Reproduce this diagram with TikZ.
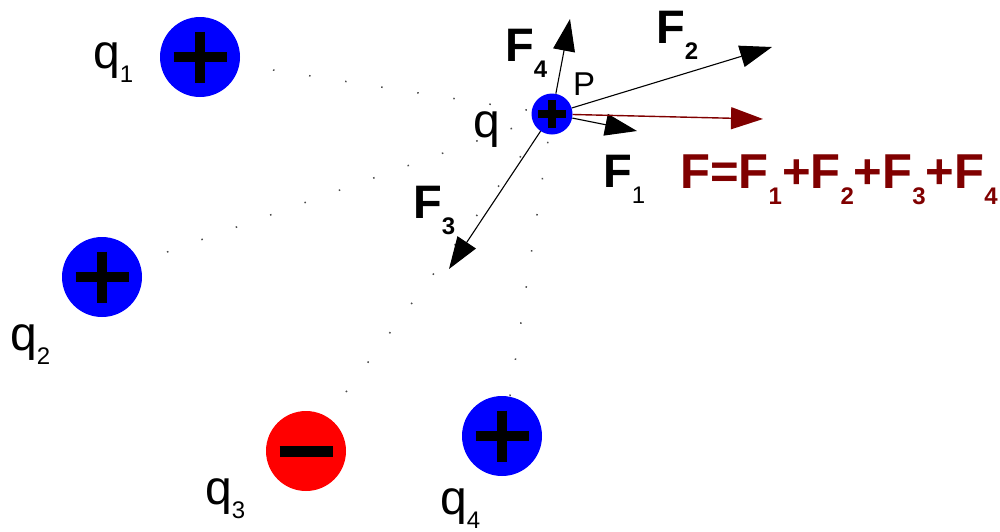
\documentclass[tikz,border=0pt]{standalone}
\usepackage{fontspec}
\setmainfont{Liberation Sans}
\usetikzlibrary{arrows.meta}
\definecolor{darkred}{HTML}{800000}
\definecolor{pureblue}{HTML}{0000FF}
\definecolor{purered}{HTML}{FF0000}
\newcommand\qsub[1]{\raisebox{-14pt}{\fontsize{24}{24}\selectfont #1}}
\newcommand\fsub[1]{\raisebox{-16pt}{\fontsize{24}{24}\selectfont #1}}
\begin{document}
\begin{tikzpicture}[x=1pt,y=-1pt,
  charge/.style={circle,inner sep=0pt,minimum size=80pt},
  poscharge/.style={charge,fill=pureblue},
  negcharge/.style={charge,fill=purered},
  testcharge/.style={circle,inner sep=0pt,minimum size=41pt,fill=pureblue},
  dotline/.style={line width=1.5pt,black!70,dash pattern=on 1.5pt off 35pt},
  bar/.style={line width=10pt,black},
  smallbar/.style={line width=8pt,black},
  force/.style={line width=1.1pt,black,-{Triangle[length=32pt,width=22pt]}},
  resultant/.style={line width=1.4pt,darkred,-{Triangle[length=32pt,width=22pt]}},
  qlabel/.style={anchor=base west,inner sep=0pt,font=\fontsize{48}{48}\selectfont},
  flabel/.style={anchor=base west,inner sep=0pt,font=\fontsize{47}{47}\selectfont\bfseries},
  plabel/.style={anchor=base west,inner sep=0pt,font=\fontsize{33}{33}\selectfont}]
\useasboundingbox (0,0) rectangle (1000,531);

% charge positions
\coordinate (P) at (552,114);
\coordinate (c1) at (200,57);
\coordinate (c2) at (102,277);
\coordinate (c3) at (306,451);
\coordinate (c4) at (502,436);

% starting dots of the dotted lines
\coordinate (d1) at (273,70);
\coordinate (d2) at (167,252);
\coordinate (d3) at (346,392);
\coordinate (d4) at (510,396);
\draw[dotline] (d1) -- (P);
\draw[dotline] (d2) -- (P);
\draw[dotline] (d3) -- (P);
\draw[dotline] (d4) -- (P);

% charges
\node[poscharge] (q1) at (c1) {};
\node[poscharge] (q2) at (c2) {};
\node[negcharge] (q3) at (c3) {};
\node[poscharge] (q4) at (c4) {};
\node[testcharge] (p) at (P) {};

% signs
\draw[bar] (q1.center) ++(-26.5,0) -- ++(53,0);
\draw[bar] (q1.center) ++(0,-25.5) -- ++(0,51);
\draw[bar] (q2.center) ++(-26.5,0) -- ++(53,0);
\draw[bar] (q2.center) ++(0,-25.5) -- ++(0,51);
\draw[bar,line width=11pt] (q3.center) ++(-26.5,0) -- ++(53,0);
\draw[bar] (q4.center) ++(-26.5,0) -- ++(53,0);
\draw[bar] (q4.center) ++(0,-25.5) -- ++(0,51);
\draw[smallbar] (p.center) ++(-14,0) -- ++(28,0);
\draw[smallbar] (p.center) ++(0,-14) -- ++(0,28);

% force tips
\coordinate (t1) at (637,131);
\coordinate (t2) at (772,47);
\coordinate (t3) at (449,269);
\coordinate (t4) at (570,19);
\coordinate (tF) at (763,119);
\draw[force] (p) -- (t1);
\draw[force] (p) -- (t2);
\draw[force] (p) -- (t3);
\draw[force] (p) -- (t4);
\draw[resultant] (p) -- (tF);

% labels
\node[qlabel] (l1) at (93,68) {q\qsub{1}};
\node[qlabel] (l2) at (10,350) {q\qsub{2}};
\node[qlabel] (l3) at (205,504) {q\qsub{3}};
\node[qlabel] (l4) at (440,514) {q\qsub{4}};
\node[qlabel] (lq) at (473,137) {q};
\node[plabel] (lP) at (573,95) {P};
\node[flabel] (lF4) at (505,61) {F\fsub{4}};
\node[flabel] (lF2) at (656,43) {F\fsub{2}};
\node[flabel] (lF3) at (413,218) {F\fsub{3}};
\node[flabel] (lF1) at (603,187) {F\fsub{\mdseries 1}};
\node[flabel,text=darkred,font=\fontsize{49}{49}\selectfont\bfseries] (lF) at (680,188)
  {F=F\fsub{1}+F\fsub{2}+F\fsub{3}+F\fsub{4}};
\end{tikzpicture}
\end{document}
